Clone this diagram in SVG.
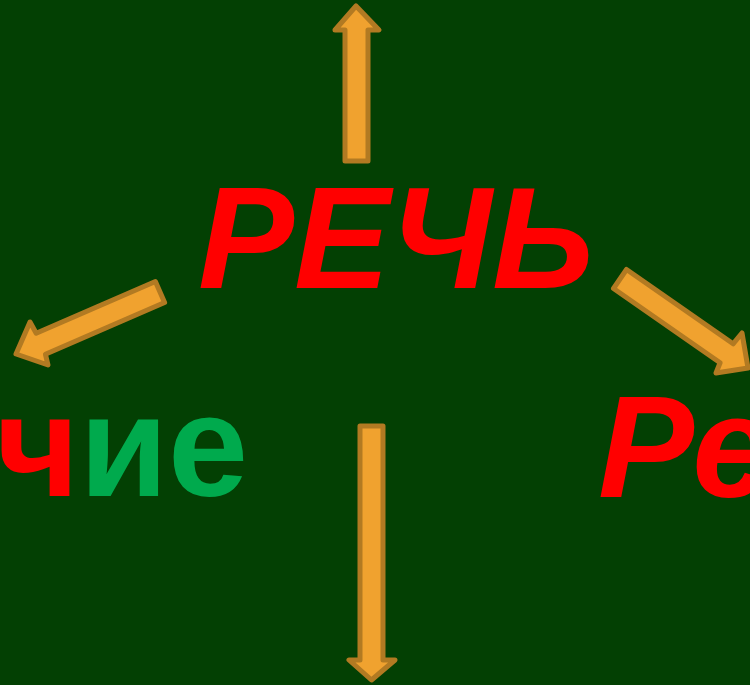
<svg xmlns="http://www.w3.org/2000/svg" width="750" height="685" viewBox="0 0 750 685">
<style>
.arr{fill:#F0A22F;stroke:#B27A22;stroke-width:5;stroke-linejoin:round}
.t{font-family:"Liberation Sans",Arial,sans-serif;font-weight:bold;font-size:144px}
.red{fill:#FF0000}
.grn{fill:#00AA4D}
</style>
<rect width="750" height="685" fill="#034003"/>
<g id="connectors">
<polygon class="arr" points="345,161 345,30 335,30 356,6 379,30 368,30 368,161"/>
<polygon class="arr" points="360,426 383,426 383,660 395,660 371.5,680 349,660 360,660"/>
<polygon class="arr" points="164.6,302.5 155.4,281.5 36.2,333.2 30,322 16,354 48,365 45.4,354.2"/>
<polygon class="arr" points="613.5,288.5 626.5,269.5 733.1,343.8 742,333 748,368 716,373 720.1,362.8"/>
</g>
<g id="speech"><text class="t red" x="198" y="288" font-style="italic" font-size="142">РЕЧЬ</text></g>
<g id="left-word"><text class="t" x="248" y="496" text-anchor="end"><tspan class="red">ч</tspan><tspan class="grn">ие</tspan></text></g>
<g id="right-word"><text class="t red" x="598" y="497" font-style="italic">Ре</text></g>
</svg>
